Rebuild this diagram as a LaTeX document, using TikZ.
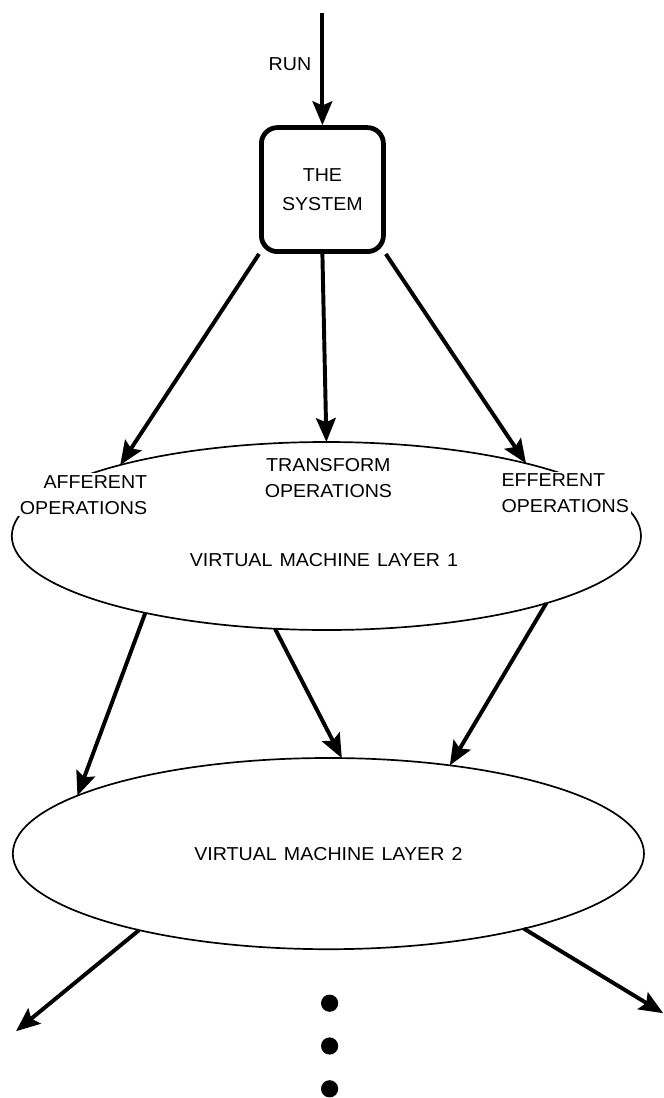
\documentclass[tikz,border=0pt]{standalone}
\usepackage{fontspec}
\setmainfont{Liberation Sans}[FakeStretch=1.05,WordSpace=1.3]
\usetikzlibrary{arrows.meta,shapes.geometric}

\begin{document}
\begin{tikzpicture}[
    every node/.style={font=\fontsize{13.3}{18.5}\selectfont},
    layer/.style={ellipse,draw=black,line width=1.2pt,inner sep=0pt,outer sep=0pt},
    flow/.style={-{Stealth[length=17pt,width=14pt,inset=3pt]},line width=2.8pt},
    lbl/.style={fill=white,inner sep=1.5pt},
    dot/.style={circle,fill=black,minimum size=0.43cm,inner sep=0pt}
  ]

      \useasboundingbox (0,0) rectangle (16.6,-27.45);

      \coordinate (run) at (8.06,-0.33);
      \node[inner sep=0pt] (r) at (7.25,-1.6){RUN};
      \node[draw=black,line width=3.4pt,rounded corners=0.4cm,minimum width=3.05cm,minimum height=3.1cm,align=center,font=\fontsize{13.3}{20}\selectfont] (sys) at (8.06,-4.74){THE\\SYSTEM};

      \node[layer,minimum width=15.73cm,minimum height=4.7cm] (l1) at (8.16,-13.4){};
      \node[layer,minimum width=15.78cm,minimum height=4.78cm] (l2) at (8.21,-21.34){VIRTUAL MACHINE LAYER 2};

      \node[lbl,align=right,anchor=east] (aff) at (3.74,-12.37){AFFERENT\\OPERATIONS};
      \node[lbl,align=center] (tra) at (8.21,-11.95){TRANSFORM\\OPERATIONS};
      \node[lbl,align=left,anchor=west] (eff) at (12.48,-12.33){EFFERENT\\OPERATIONS};
      \node[] (vm1) at (8.1,-13.99){VIRTUAL MACHINE LAYER 1};

      \foreach \y [count=\i] in {-25.08,-26.15,-27.22}
        \node[dot] (d\i) at (8.24,\y){};

      \coordinate (outl) at (0.4,-25.78);
      \coordinate (outr) at (16.58,-25.33);

      \draw[flow] (run) -- (sys);
      \draw[flow] (sys.south west) -- (l1.161);
      \draw[flow] (sys.south) -- (l1.north);
      \draw[flow] (sys.south east) -- (l1.20);
      \draw[flow] (l1.-157) -- (l2.167);
      \draw[flow] (l1.-119) -- (l2.82);
      \draw[flow] (l1.-17) -- (l2.36);
      \draw[flow] (l2.-158) -- (outl);
      \draw[flow] (l2.-21) -- (outr);
    \end{tikzpicture}
\end{document}
